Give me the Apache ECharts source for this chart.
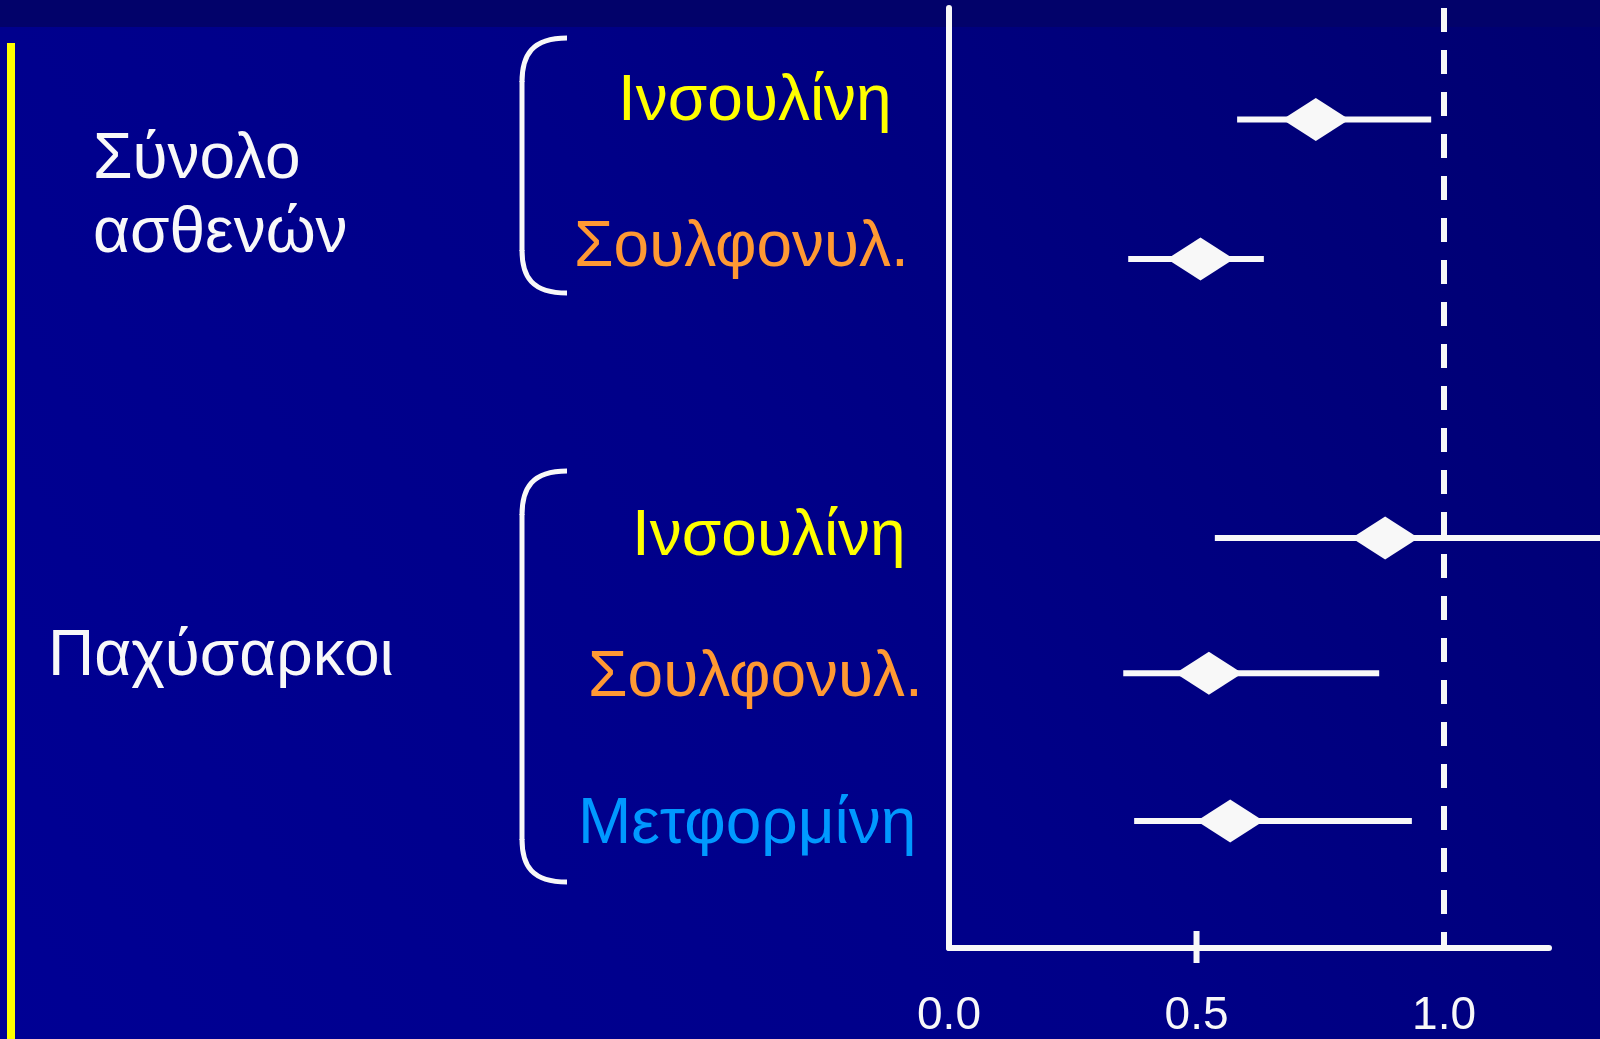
<!DOCTYPE html>
<html>
<head>
<meta charset="utf-8">
<script src="https://cdn.jsdelivr.net/npm/echarts@6/dist/echarts.min.js"></script>
<style>
html,body{margin:0;padding:0;background:#000088;}
#chart{width:1600px;height:1039px;}
</style>
</head>
<body>
<div id="chart"></div>
<script>
// ---- data ----
const rowLabels = ['Ινσουλίνη', 'Σουλφονυλ.', 'Ινσουλίνη', 'Σουλφονυλ.', 'Μετφορμίνη'];
const rowSlots  = [1, 2, 4, 4.97, 6.03];        // vertical position of each row
const estimate  = [0.741, 0.508, 0.881, 0.525, 0.568];
const ciLow     = [0.582, 0.362, 0.537, 0.352, 0.374];
const ciHigh    = [0.974, 0.636, 1.40, 0.869, 0.935];
const groupLabels = [['Σύνολο', 'ασθενών'], ['Παχύσαρκοι']];
const xTickLabels = [0, 0.5, 1.0];
const majorTick   = [0.5];
const refValue    = 1.0;

// ---- styles ----
const WHITE = '#F8F8F8';
const rowColors = ['#FFFF00', '#FF9933', '#FFFF00', '#FF9933', '#0099FF'];
const FONT = '"Liberation Sans", Arial, sans-serif';

const forestData = rowSlots.map((s, i) => [estimate[i], s, ciLow[i], ciHigh[i]]);

const chart = echarts.init(document.getElementById('chart'), null, {renderer: 'canvas'});

// label / decoration placements (layout only)
const rowLabelPos = [[618, 102], [574, 248], [632, 537], [588, 678], [578, 825]];
const groupLabelPos = [[[93, 160], [93, 234]], [[48, 657]]];
const brackets = [[38, 293], [471, 882]];

function bracket(top, bot) {
  const st = {fill: 'none', stroke: WHITE, lineWidth: 5};
  return [
    {type: 'bezierCurve', z: 5, silent: true,
     shape: {x1: 567, y1: top, cpx1: 532, cpy1: top, cpx2: 522, cpy2: top + 17, x2: 522, y2: top + 44}, style: st},
    {type: 'line', z: 5, silent: true, shape: {x1: 522, y1: top + 43, x2: 522, y2: bot - 42}, style: st},
    {type: 'bezierCurve', z: 5, silent: true,
     shape: {x1: 522, y1: bot - 43, cpx1: 522, cpy1: bot - 16, cpx2: 532, cpy2: bot, x2: 567, y2: bot}, style: st}
  ];
}

const graphics = [
  {type: 'rect', z: -10, silent: true, shape: {x: 0, y: 0, width: 1600, height: 1039},
   style: {fill: new echarts.graphic.LinearGradient(0, 1, 1, 0,
     [{offset: 0, color: '#000094'}, {offset: 0.5, color: '#000088'}, {offset: 1, color: '#000070'}])}},
  {type: 'rect', z: -9, silent: true, shape: {x: 0, y: 0, width: 1600, height: 27}, style: {fill: '#02026A'}},
  {type: 'rect', z: -8, silent: true, shape: {x: 7, y: 43, width: 8, height: 1000}, style: {fill: '#FFFF00'}}
];
brackets.forEach(b => graphics.push(...bracket(b[0], b[1])));
rowLabels.forEach((t, i) => {
  graphics.push({type: 'text', z: 10, silent: true, x: rowLabelPos[i][0], y: rowLabelPos[i][1],
    style: {text: t, fill: rowColors[i], font: '64px ' + FONT, textAlign: 'left', textVerticalAlign: 'middle'}});
});
groupLabels.forEach((lines, g) => {
  lines.forEach((t, j) => {
    graphics.push({type: 'text', z: 10, silent: true, x: groupLabelPos[g][j][0], y: groupLabelPos[g][j][1],
      style: {text: t, fill: WHITE, font: '64px ' + FONT, textAlign: 'left', textVerticalAlign: 'middle'}});
  });
});

const option = {
  backgroundColor: 'transparent',
  animation: false,
  graphic: graphics,
  grid: {left: 949, right: 51, top: 8, bottom: 83, containLabel: false},
  xAxis: {
    type: 'value', min: 0, max: 1.212,
    splitLine: {show: false},
    axisLine: {show: true, lineStyle: {color: WHITE, width: 6}},
    axisTick: {show: false},
    axisLabel: {show: true, customValues: xTickLabels, color: WHITE, fontSize: 46, fontFamily: FONT,
      margin: 45, formatter: v => v.toFixed(1)}
  },
  yAxis: {
    type: 'value', inverse: true, min: 0.2, max: 6.94,
    splitLine: {show: false},
    axisLine: {show: true, onZero: false, lineStyle: {color: WHITE, width: 6}},
    axisTick: {show: false},
    axisLabel: {show: false}
  },
  series: [
    {
      type: 'custom',
      clip: false,
      z: 3,
      data: forestData,
      renderItem: function (params, api) {
        const y = api.value(1);
        const pLo = api.coord([api.value(2), y]);
        const pHi = api.coord([api.value(3), y]);
        const pC = api.coord([api.value(0), y]);
        const hw = 33.5, hh = 21.5;
        return {
          type: 'group',
          children: [
            {type: 'line', shape: {x1: pLo[0], y1: pLo[1], x2: pHi[0], y2: pHi[1]},
             style: {stroke: WHITE, lineWidth: 6}},
            {type: 'polygon', shape: {points: [[pC[0] - hw, pC[1]], [pC[0], pC[1] - hh], [pC[0] + hw, pC[1]], [pC[0], pC[1] + hh]]},
             style: {fill: WHITE}}
          ]
        };
      },
      markLine: {
        silent: true, symbol: 'none', label: {show: false},
        lineStyle: {color: WHITE, width: 6, type: [24, 18]},
        data: [{xAxis: refValue}]
      }
    },
    {
      type: 'custom',
      clip: false,
      z: 4,
      data: majorTick.map(v => [v]),
      renderItem: function (params, api) {
        const p = api.coord([api.value(0), 6.94]);
        return {type: 'line', shape: {x1: p[0], y1: p[1] - 17, x2: p[0], y2: p[1] + 15},
          style: {stroke: WHITE, lineWidth: 6}};
      }
    }
  ]
};
chart.setOption(option);
</script>
</body>
</html>
